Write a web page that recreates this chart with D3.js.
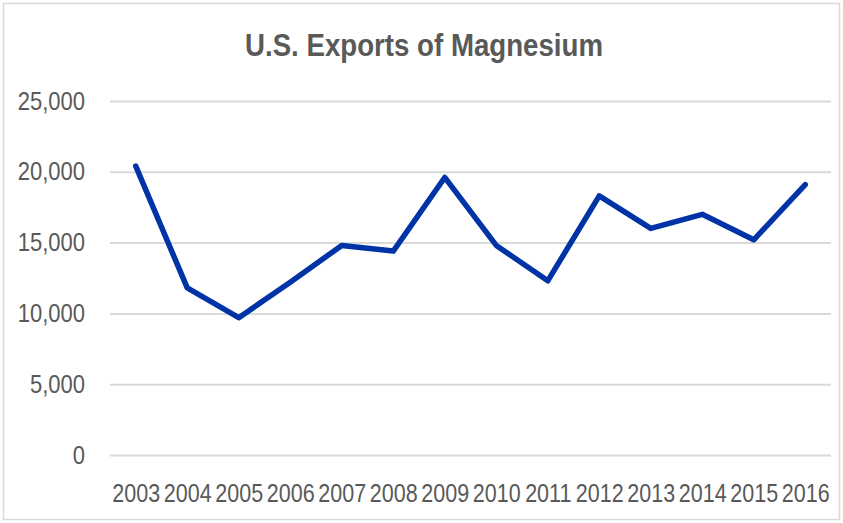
<!DOCTYPE html>
<html>
<head>
<meta charset="utf-8">
<script src="https://cdn.jsdelivr.net/npm/d3@7"></script>
<style>
  body { margin: 0; background: #fff; }
  svg { display: block; }
  text { font-family: "Liberation Sans", Arial, sans-serif; fill: #595959; }
</style>
</head>
<body>
<div id="chart"></div>
<script>
// data (metric tons)
var years = ["2003","2004","2005","2006","2007","2008","2009","2010","2011","2012","2013","2014","2015","2016"];
var exportsT = [20400, 11800, 9700, 12200, 14800, 14400, 19600, 14800, 12300, 18300, 16000, 17000, 15200, 19100];
var yTicks = [0, 5000, 10000, 15000, 20000, 25000];

var width = 843, height = 523;
var margin = {top: 101, right: 12, bottom: 68, left: 110};

var svg = d3.select("#chart").append("svg")
    .attr("width", width)
    .attr("height", height);

// narrow the labels a bit, the original uses a condensed face
function squeeze(sel, k){
    sel.each(function(){
        var w = this.getComputedTextLength();
        d3.select(this).attr("textLength", w * k).attr("lengthAdjust", "spacingAndGlyphs");
    });
}

// outer chart frame
svg.append("rect")
    .attr("x", 3.5).attr("y", 3.5)
    .attr("width", width - 7).attr("height", height - 7)
    .style("fill", "#fff")
    .style("stroke", "#d9d9d9")
    .style("stroke-width", "1.5px");

svg.append("text")
    .attr("x", 424)
    .attr("y", 56)
    .attr("text-anchor", "middle")
    .style("font-size", "32px")
    .style("font-weight", "bold")
    .attr("textLength", 358)
    .attr("lengthAdjust", "spacingAndGlyphs")
    .text("U.S. Exports of Magnesium");

var x = d3.scalePoint()
    .domain(years)
    .range([margin.left, width - margin.right])
    .padding(0.5);

var y = d3.scaleLinear()
    .domain([0, 25000])
    .range([height - margin.bottom, margin.top]);

// gridlines via axis
var grid = svg.append("g")
    .attr("transform", "translate(" + margin.left + ",0)")
    .call(d3.axisLeft(y).tickValues(yTicks)
        .tickSize(-(width - margin.right - margin.left))
        .tickFormat(""));
grid.select(".domain").remove();
grid.selectAll("line").style("stroke", "#d9d9d9").style("stroke-width", "2px");

var yAxis = svg.append("g")
    .attr("transform", "translate(" + margin.left + ",0)")
    .call(d3.axisLeft(y).tickValues(yTicks).tickSize(0).tickPadding(25)
        .tickFormat(d3.format(",")));
yAxis.select(".domain").remove();
yAxis.selectAll("text").attr("font-family", null).attr("font-size", null)
    .style("font-size", "25px").style("fill", "#595959");
squeeze(yAxis.selectAll("text"), 0.88);

var xAxis = svg.append("g")
    .attr("transform", "translate(0," + (height - margin.bottom) + ")")
    .call(d3.axisBottom(x).tickSize(0).tickPadding(29));
xAxis.select(".domain").remove();
xAxis.selectAll("text").attr("font-family", null).attr("font-size", null)
    .style("font-size", "25px").style("fill", "#595959");
squeeze(xAxis.selectAll("text"), 0.86);

var line = d3.line()
    .x(function(d, i){ return x(years[i]); })
    .y(function(d){ return y(d); });

svg.append("path")
    .datum(exportsT)
    .attr("d", line)
    .style("fill", "none")
    .style("stroke", "#0033a6")
    .style("stroke-width", "5.5px")
    .style("stroke-linejoin", "round")
    .style("stroke-linecap", "round");
</script>
</body>
</html>
